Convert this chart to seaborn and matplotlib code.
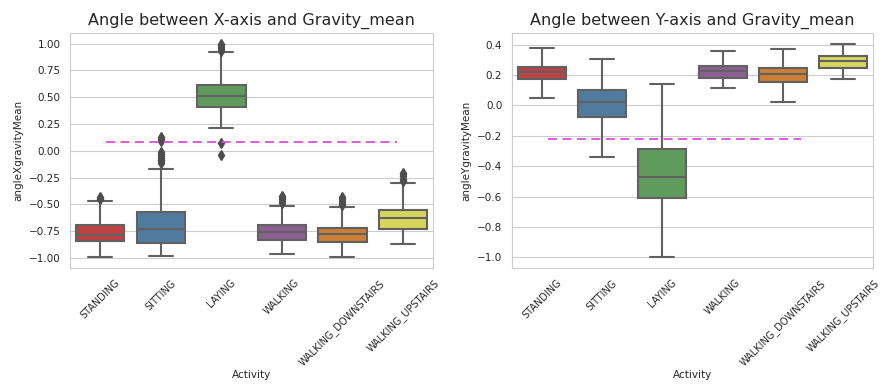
import numpy as np
import pandas as pd
import matplotlib
matplotlib.use("Agg")
import matplotlib.pyplot as plt
import seaborn as sns

activities = ["STANDING", "SITTING", "LAYING", "WALKING", "WALKING_DOWNSTAIRS", "WALKING_UPSTAIRS"]

# angleXgravityMean: five-number summaries
x_low = [-0.995, -0.985, 0.21, -0.965, -0.993, -0.874]
x_q1 = [-0.84, -0.864, 0.41, -0.83, -0.852, -0.727]
x_med = [-0.79, -0.727, 0.515, -0.758, -0.78, -0.626]
x_q3 = [-0.69, -0.57, 0.615, -0.695, -0.72, -0.554]
x_high = [-0.47, -0.17, 0.92, -0.513, -0.525, -0.297]
x_outliers = [
    [-0.455, -0.445, -0.435],
    [-0.115, -0.1, -0.085, -0.07, -0.05, -0.03, -0.01, 0.09, 0.11, 0.13],
    [0.07, -0.04, 0.93, 0.95, 0.97, 0.99, 1.0],
    [-0.49, -0.47, -0.45, -0.43, -0.42],
    [-0.51, -0.49, -0.47, -0.45, -0.43],
    [-0.28, -0.26, -0.24, -0.22, -0.21],
]

# angleYgravityMean (fliers hidden)
y_low = [0.046, -0.34, -1.0, 0.114, 0.022, 0.177]
y_q1 = [0.171, -0.078, -0.612, 0.182, 0.157, 0.247]
y_med = [0.219, 0.026, -0.47, 0.23, 0.206, 0.293]
y_q3 = [0.256, 0.103, -0.29, 0.262, 0.249, 0.328]
y_high = [0.378, 0.306, 0.142, 0.357, 0.37, 0.407]

x_threshold = 0.08
y_threshold = -0.22

REP = 50


def build_frame(col, low, q1, med, q3, high, outliers=None):
    rows = []
    for i, act in enumerate(activities):
        vals = [low[i]] + [q1[i]] * REP + [med[i]] * REP + [q3[i]] * REP + [high[i]]
        if outliers is not None:
            vals += outliers[i]
        rows += [(act, v) for v in vals]
    return pd.DataFrame(rows, columns=["Activity", col])


dfx = build_frame("angleXgravityMean", x_low, x_q1, x_med, x_q3, x_high, x_outliers)
dfy = build_frame("angleYgravityMean", y_low, y_q1, y_med, y_q3, y_high)

sns.set_style("whitegrid")
plt.rcParams["font.family"] = ["DejaVu Sans"]
palette = sns.color_palette("Set1", 6, desat=0.80)

fig = plt.figure(figsize=(8.9, 3.88), dpi=100)
ax1 = fig.add_axes([0.0787, 0.3093, 0.4079, 0.6057])
ax2 = fig.add_axes([0.5753, 0.3093, 0.4056, 0.6057])

line_c = ".38"
dash_c = "#d94fd9"
flier = dict(marker="d", markerfacecolor=".3", markeredgecolor=".3", markersize=5)

sns.boxplot(data=dfx, x="Activity", y="angleXgravityMean", hue="Activity",
            palette=palette, legend=False, ax=ax1, linecolor=line_c,
            linewidth=1.5, width=0.8, flierprops=flier, saturation=0.75)
ax1.axhline(y=x_threshold, xmin=0.1, xmax=0.9, c=dash_c, dashes=(5, 3), lw=1.3)
ax1.set_title("Angle between X-axis and Gravity_mean", fontsize=11.5, color=".15")

sns.boxplot(data=dfy, x="Activity", y="angleYgravityMean", hue="Activity",
            palette=palette, legend=False, ax=ax2, linecolor=line_c,
            linewidth=1.5, width=0.8, showfliers=False, saturation=0.75)
ax2.axhline(y=y_threshold, xmin=0.1, xmax=0.8, c=dash_c, dashes=(5, 3), lw=1.3)
ax2.set_title("Angle between Y-axis and Gravity_mean", fontsize=11.5, color=".15")

for ax in (ax1, ax2):
    ax.tick_params(axis="y", labelsize=7.5)
    ax.tick_params(axis="x", labelsize=7)
    for lab in ax.get_xticklabels():
        lab.set_rotation(45)
    ax.xaxis.label.set_size(7.5)
    ax.yaxis.label.set_size(7.5)
    ax.xaxis.labelpad = 2

fig.savefig("out.png", dpi=100)
